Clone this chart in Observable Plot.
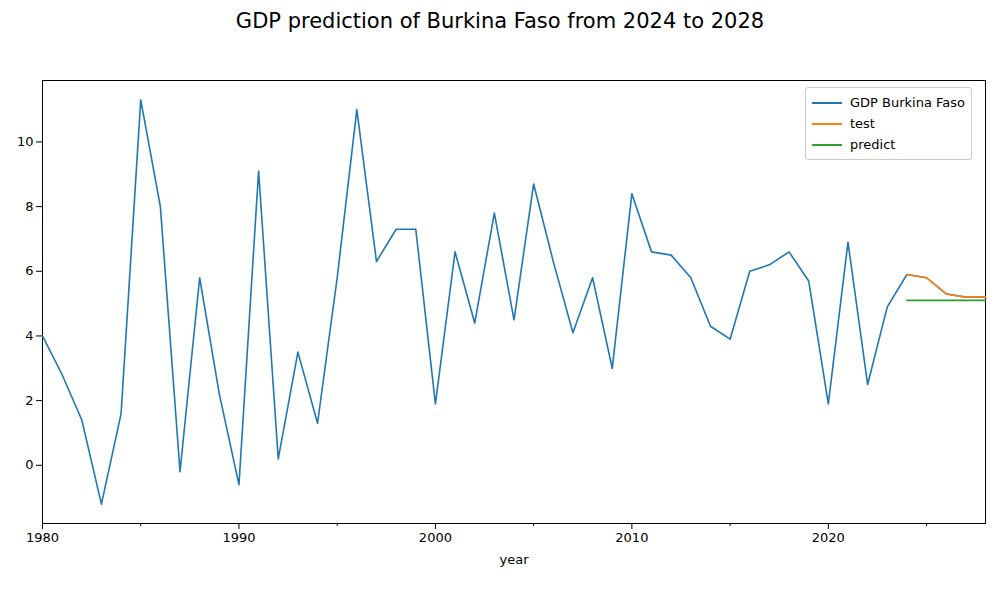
<!DOCTYPE html>
<html><head><meta charset="utf-8">
<script src="https://cdn.jsdelivr.net/npm/d3@7"></script>
<script src="https://cdn.jsdelivr.net/npm/@observablehq/plot@0.6"></script>
<style>
body{margin:0;font-family:"DejaVu Sans",sans-serif;background:#fff}
#wrap{position:relative;width:1000px}
#title{height:60px;line-height:42px;text-align:center;font-size:21px}
#legend{position:absolute;left:805px;top:87px;border:1px solid #ccc;border-radius:3px;background:#fff;padding:4px 6px;font-size:13px}
#legend div{display:flex;align-items:center;height:21px}
#legend span{display:inline-block;width:30px;height:2px;margin-right:8px}
</style></head><body>
<div id="wrap">
<div id="title">GDP prediction of Burkina Faso from 2024 to 2028</div>
<div id="chart"></div>
<div id="legend">
<div><span style="background:#1f77b4"></span>GDP Burkina Faso</div>
<div><span style="background:#ff7f0e"></span>test</div>
<div><span style="background:#2ca02c"></span>predict</div>
</div>
</div>
<script>
const years = d3.range(1980, 2029);
const gdp = [4.0,2.8,1.4,-1.2,1.6,11.3,8.0,-0.2,5.8,2.2,-0.6,9.1,0.2,3.5,1.3,5.8,11.0,6.3,7.3,7.3,1.9,6.6,4.4,7.8,4.5,8.7,6.3,4.1,5.8,3.0,8.4,6.6,6.5,5.8,4.3,3.9,6.0,6.2,6.6,5.7,1.9,6.9,2.5,4.9,5.9,5.8,5.3,5.2,5.2];
const testYears = [2024,2025,2026,2027,2028];
const testVals = [5.9,5.8,5.3,5.2,5.2];
const predVals = [5.1,5.1,5.1,5.1,5.1];
const majorTicks = [1980,1990,2000,2010,2020];
const minorTicks = [1985,1995,2005,2015,2025];

const main = years.map((y,i)=>({year:y, v:gdp[i]}));
const test = testYears.map((y,i)=>({year:y, v:testVals[i]}));
const pred = testYears.map((y,i)=>({year:y, v:predVals[i]}));

const chart = Plot.plot({
  width: 1000, height: 540,
  marginLeft: 42, marginRight: 15, marginTop: 20, marginBottom: 77,
  style: {fontSize: "13px", fontFamily: "DejaVu Sans, sans-serif", color: "#000"},
  x: {domain: [1980, 2028], label: null},
  y: {domain: [-1.8, 11.9], label: null},
  marks: [
    Plot.frame({stroke: "#000"}),
    Plot.axisX(majorTicks, {tickFormat: d=>String(d), tickSize: 6, label: null}),
    Plot.axisX(minorTicks, {tickFormat: () => "", tickSize: 3, label: null}),
    Plot.axisY([0,2,4,6,8,10], {tickSize: 6, label: null}),
    Plot.text(["year"], {frameAnchor: "bottom", dy: 40, text: d=>d, fontSize: 13}),
    Plot.line(main, {x: "year", y: "v", stroke: "#1f77b4", strokeWidth: 1.6}),
    Plot.line(test, {x: "year", y: "v", stroke: "#ff7f0e", strokeWidth: 1.6}),
    Plot.line(pred, {x: "year", y: "v", stroke: "#2ca02c", strokeWidth: 1.6})
  ]
});
d3.select("#chart").append(() => chart);
</script>
</body></html>
